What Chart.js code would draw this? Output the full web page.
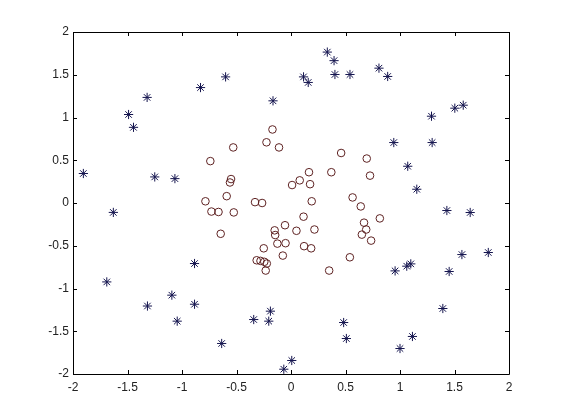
<!DOCTYPE html>
<html>
<head>
<meta charset="utf-8">
<script src="https://cdn.jsdelivr.net/npm/chart.js@4/dist/chart.umd.min.js"></script>
<style>
  html, body { margin: 0; padding: 0; background: #fff; }
  #wrap { width: 561px; height: 420px; }
</style>
</head>
<body>
<div id="wrap"><canvas id="scatterChart" width="561" height="420"></canvas></div>
<script>
// inner class (circles)
const circleX = [-0.17, -0.225, -0.11, -0.53, -0.74, -0.55, -0.56, -0.59, -0.785, -0.33,
                 -0.265, 0.01, 0.46, 0.695, 0.725, 0.37, 0.165, 0.08, 0.175, 0.19,
                 0.565, 0.64, -0.73, -0.665, -0.525, -0.645, -0.055, -0.15, -0.145, -0.125,
                 -0.05, -0.25, -0.075, -0.315, -0.28, -0.245, -0.222, -0.232, 0.815, 0.115,
                 0.05, 0.215, 0.67, 0.69, 0.65, 0.735, 0.12, 0.185, 0.54, 0.35];
const circleY = [0.86, 0.71, 0.65, 0.65, 0.49, 0.28, 0.24, 0.08, 0.02, 0.01,
                 0.0, 0.21, 0.585, 0.52, 0.32, 0.36, 0.36, 0.265, 0.22, 0.02,
                 0.065, -0.04, -0.10, -0.105, -0.11, -0.36, -0.26, -0.32, -0.375, -0.475,
                 -0.47, -0.53, -0.615, -0.67, -0.677, -0.688, -0.708, -0.79, -0.18, -0.16,
                 -0.325, -0.31, -0.23, -0.31, -0.37, -0.44, -0.505, -0.53, -0.635, -0.79];

// outer class (stars)
const starX = [-1.905, -1.49, -1.445, -1.32, -1.25, -1.065, -0.83, -0.6, -0.165, 0.333,
               0.395, 0.115, 0.158, 0.403, 0.541, 0.807, 0.887, 1.289, 1.503, 1.58,
               0.943, 1.295, 1.071, 1.154, -1.63, -1.69, -0.885, -1.093, -1.317, -0.885,
               -1.044, -0.342, -0.189, -0.204, -0.636, -0.066, 1.43, 1.644, 1.568, 1.81,
               0.955, 1.062, 1.099, 1.451, 1.393, 0.483, 0.508, 1.114, 1.0, 0.007];
const starY = [0.345, 1.035, 0.885, 1.235, 0.305, 0.285, 1.35, 1.475, 1.195, 1.765,
               1.665, 1.475, 1.41, 1.503, 1.503, 1.577, 1.48, 1.015, 1.109, 1.144,
               0.707, 0.707, 0.43, 0.161, -0.11, -0.923, -0.708, -1.078, -1.205, -1.184,
               -1.382, -1.363, -1.265, -1.382, -1.643, -1.944, -0.088, -0.111, -0.603, -0.579,
               -0.794, -0.739, -0.712, -0.801, -1.234, -1.398, -1.585, -1.561, -1.702, -1.842];

const axisMin = -2;
const axisMax = 2;
const tickStep = 0.5;

function toPoints(xs, ys) {
    return xs.map((x, i) => ({ x: x, y: ys[i] }));
}

// box round the axes and inward tick marks on all four sides
const matlabBox = {
    id: 'matlabBox',
    afterDraw(chart) {
        const ctx = chart.ctx;
        const area = chart.chartArea;
        const xs = chart.scales.x;
        const ys = chart.scales.y;
        const len = 4;
        ctx.save();
        ctx.strokeStyle = '#000';
        ctx.lineWidth = 1;
        ctx.beginPath();
        ctx.rect(Math.round(area.left) + 0.5, Math.round(area.top) + 0.5,
                 Math.round(area.right - area.left), Math.round(area.bottom - area.top));
        xs.ticks.forEach(t => {
            const px = Math.round(xs.getPixelForValue(t.value)) + 0.5;
            ctx.moveTo(px, area.bottom);
            ctx.lineTo(px, area.bottom - len);
            ctx.moveTo(px, area.top);
            ctx.lineTo(px, area.top + len);
        });
        ys.ticks.forEach(t => {
            const py = Math.round(ys.getPixelForValue(t.value)) + 0.5;
            ctx.moveTo(area.left, py);
            ctx.lineTo(area.left + len, py);
            ctx.moveTo(area.right, py);
            ctx.lineTo(area.right - len, py);
        });
        ctx.stroke();
        ctx.restore();
    }
};

const tickFont = { family: '"Liberation Sans", Arial, sans-serif', size: 12 };

new Chart(document.getElementById('scatterChart'), {
    type: 'scatter',
    data: {
        datasets: [
            {
                label: 'inner',
                data: toPoints(circleX, circleY),
                pointStyle: 'circle',
                pointRadius: 3.8,
                borderWidth: 1,
                borderColor: '#5e2222',
                backgroundColor: 'rgba(0,0,0,0)'
            },
            {
                label: 'outer',
                data: toPoints(starX, starY),
                pointStyle: 'star',
                pointRadius: 4.6,
                borderWidth: 1,
                borderColor: '#14144e',
                backgroundColor: 'rgba(0,0,0,0)'
            }
        ]
    },
    options: {
        responsive: false,
        animation: false,
        devicePixelRatio: 1,
        layout: { padding: { top: 32, right: 52, left: 0, bottom: 0 } },
        plugins: {
            legend: { display: false },
            tooltip: { enabled: false }
        },
        scales: {
            x: {
                type: 'linear',
                min: axisMin,
                max: axisMax,
                grid: { display: false, drawTicks: false },
                border: { display: false },
                ticks: {
                    stepSize: tickStep,
                    padding: 6,
                    color: '#222',
                    font: tickFont,
                    maxRotation: 0,
                    callback: v => String(v)
                },
                afterFit: scale => { scale.height = 46; }
            },
            y: {
                type: 'linear',
                min: axisMin,
                max: axisMax,
                grid: { display: false, drawTicks: false },
                border: { display: false },
                ticks: {
                    stepSize: tickStep,
                    padding: 4,
                    color: '#222',
                    font: tickFont,
                    callback: v => String(v)
                },
                afterFit: scale => { scale.width = 73; }
            }
        }
    },
    plugins: [matlabBox]
});
</script>
</body>
</html>
